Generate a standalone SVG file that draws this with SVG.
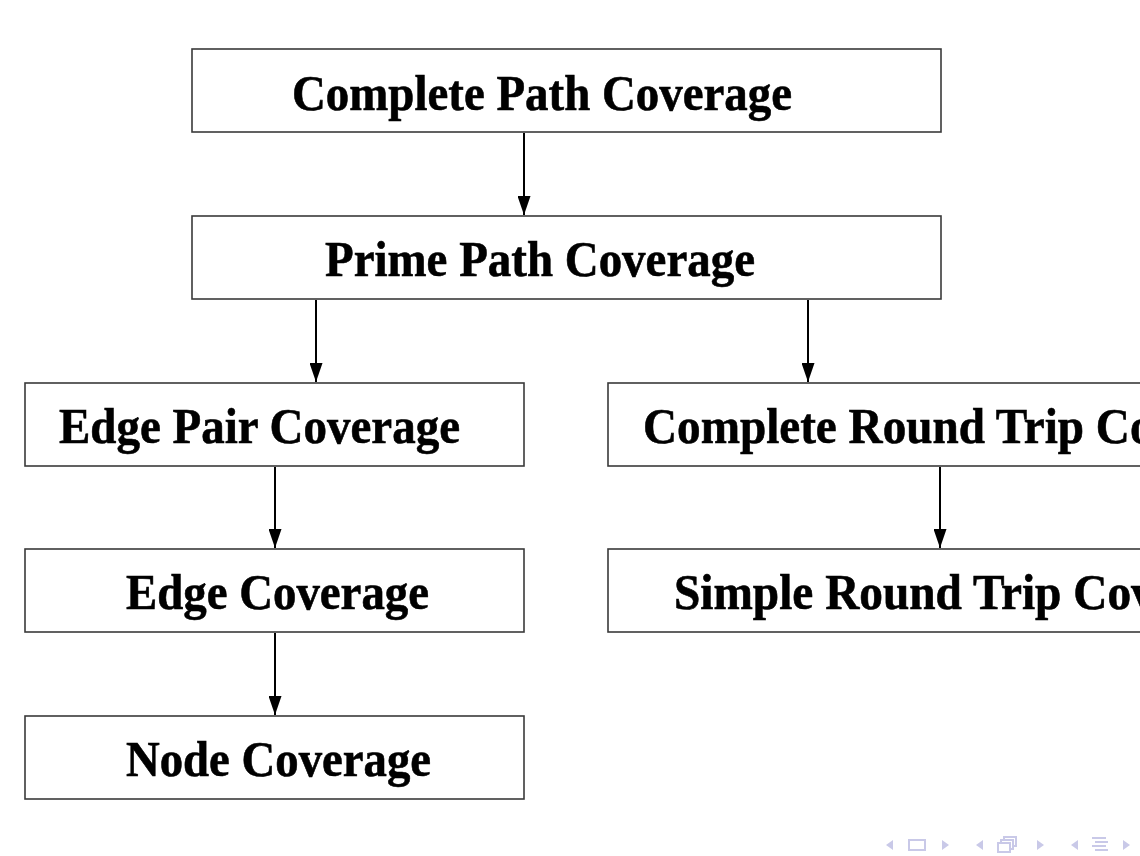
<svg xmlns="http://www.w3.org/2000/svg" width="1140" height="856" viewBox="0 0 1140 856">
<style>
.box{fill:#fff;stroke:#3a3a3a;stroke-width:1.6}
.lbl{font-family:"Liberation Serif","Times New Roman",serif;font-weight:bold;font-size:51px;fill:#000;stroke:#000;stroke-width:0.6}
.edge{stroke:#000;stroke-width:2;fill:none;marker-end:url(#ah)}
.nav{fill:#c9c9e8;stroke:none}
.navs{fill:none;stroke:#c9c9e8;stroke-width:2}
</style>
<defs>
<marker id="ah" markerWidth="19" markerHeight="13" refX="19" refY="6.5" orient="auto" markerUnits="userSpaceOnUse" viewBox="0 0 19 13">
<path d="M0,0 L19,6.5 L0,13 Z" fill="#000"/>
</marker>
</defs>
<rect width="1140" height="856" fill="#fff"/>
<g id="connectors">
<line class="edge" x1="524" y1="133" x2="524" y2="215"/>
<line class="edge" x1="316" y1="300" x2="316" y2="382"/>
<line class="edge" x1="808" y1="300" x2="808" y2="382"/>
<line class="edge" x1="275" y1="467" x2="275" y2="548"/>
<line class="edge" x1="940" y1="467" x2="940" y2="548"/>
<line class="edge" x1="275" y1="633" x2="275" y2="715"/>
</g>
<g id="complete-path">
<rect class="box" x="192" y="49" width="749" height="83"/>
<text class="lbl" x="292" y="110" textLength="500" lengthAdjust="spacingAndGlyphs">Complete Path Coverage</text>
</g>
<g id="prime-path">
<rect class="box" x="192" y="216" width="749" height="83"/>
<text class="lbl" x="325" y="276" textLength="430" lengthAdjust="spacingAndGlyphs">Prime Path Coverage</text>
</g>
<g id="edge-pair">
<rect class="box" x="25" y="383" width="499" height="83"/>
<text class="lbl" x="59" y="443" textLength="401" lengthAdjust="spacingAndGlyphs">Edge Pair Coverage</text>
</g>
<g id="complete-round-trip">
<rect class="box" x="608" y="383" width="560" height="83"/>
<text class="lbl" x="643" y="443" textLength="644" lengthAdjust="spacingAndGlyphs">Complete Round Trip Coverage</text>
</g>
<g id="edge-cov">
<rect class="box" x="25" y="549" width="499" height="83"/>
<text class="lbl" x="126" y="609" textLength="303" lengthAdjust="spacingAndGlyphs">Edge Coverage</text>
</g>
<g id="simple-round-trip">
<rect class="box" x="608" y="549" width="560" height="83"/>
<text class="lbl" x="674" y="609" textLength="591" lengthAdjust="spacingAndGlyphs">Simple Round Trip Coverage</text>
</g>
<g id="node-cov">
<rect class="box" x="25" y="716" width="499" height="83"/>
<text class="lbl" x="126" y="776" textLength="305" lengthAdjust="spacingAndGlyphs">Node Coverage</text>
</g>
<g id="nav">
<path class="nav" d="M886,845 L893,840 L893,850 Z"/>
<rect class="navs" x="909" y="840" width="16" height="10"/>
<path class="nav" d="M949,845 L942,840 L942,850 Z"/>
<path class="nav" d="M976,845 L983,840 L983,850 Z"/>
<rect class="navs" x="998" y="843" width="12" height="9"/>
<path class="navs" d="M1001,843 V840 H1013 V849 H1010 M1004,840 V837 H1016 V846 H1013"/>
<path class="nav" d="M1044,845 L1037,840 L1037,850 Z"/>
<path class="nav" d="M1071,845 L1078,840 L1078,850 Z"/>
<path class="navs" d="M1092,838 H1106 M1095,842 H1108 M1092,846 H1106 M1095,850 H1108" stroke-width="1.5"/>
<path class="nav" d="M1130,845 L1123,840 L1123,850 Z"/>
</g>
</svg>
